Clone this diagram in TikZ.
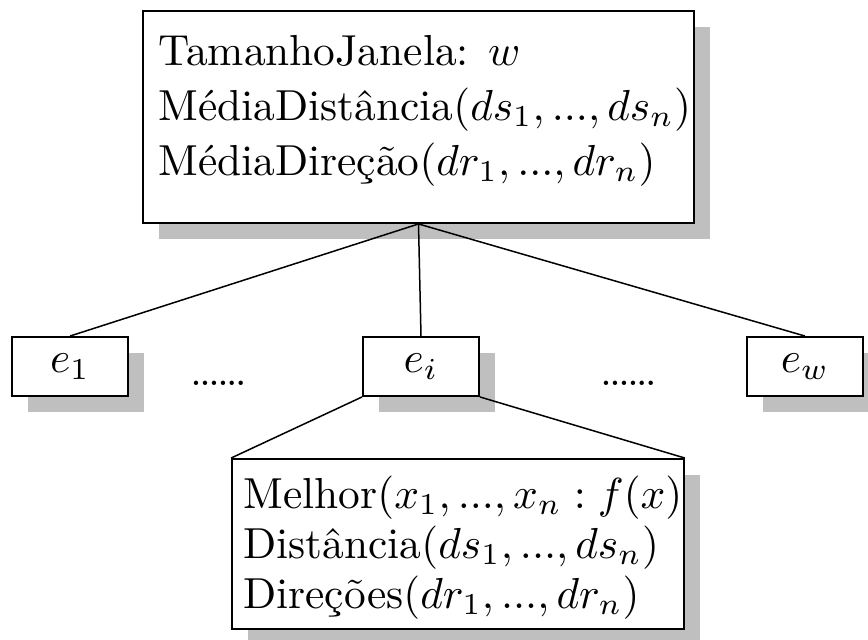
\documentclass[tikz,border=0pt]{standalone}
\usetikzlibrary{shadows}
% text is set at 10pt and enlarged, keeping the 10pt letter shapes
\newcommand\enl[1]{\scalebox{2.17}{#1}}
\newcommand\enldots[1]{\scalebox{1.4}{\bfseries #1}}
\begin{document}
\begin{tikzpicture}[x=0.5pt,y=-0.5pt,
  box/.style={draw, line width=0.95pt, fill=white, inner sep=0pt,
    general shadow={shadow xshift=8pt, shadow yshift=-8pt, fill=black!25}},
  elem/.style={box, minimum width=58pt, minimum height=29.5pt},
  line/.style={inner sep=0pt, anchor=base west},
  gap/.style={inner sep=0pt, anchor=base},
  link/.style={line width=0.75pt}]
\useasboundingbox (0,0) rectangle (868,639);

% window summary
\node[box, minimum width=275.5pt, minimum height=106pt] (head) at (418.5,117) {};
\node[line] (headA) at (158,65)  {\enl{TamanhoJanela: $w$}};
\node[line] (headB) at (158,120) {\enl{MédiaDistância$(ds_1, ..., ds_n)$}};
\node[line] (headC) at (158,175) {\enl{MédiaDireção$(dr_1, ..., dr_n)$}};

% window elements
\node[elem] (e1) at (70,366.5)  {\enl{$e_1$}};
\node[elem] (ei) at (421,366.5) {\enl{$e_i$}};
\node[elem] (ew) at (805,366.5) {\enl{$e_w$}};
\node[gap] (gapL) at (218.5,385) {\enldots{......}};
\node[gap] (gapR) at (628.5,385) {\enldots{......}};

% element detail
\node[box, minimum width=226pt, minimum height=85pt] (detail) at (458,544) {};
\node[line] (detA) at (243,508) {\enl{Melhor$(x_1, ..., x_n : f(x)$}};
\node[line] (detB) at (243,558) {\enl{Distância$(ds_1, ..., ds_n)$}};
\node[line] (detC) at (243,608) {\enl{Direções$(dr_1, ..., dr_n)$}};

% connectors
\draw[link] (head.south) -- (e1.north);
\draw[link] (head.south) -- (ei.north);
\draw[link] (head.south) -- (ew.north);
\draw[link] (ei.south west) -- (detail.north west);
\draw[link] (ei.south east) -- (detail.north east);
\end{tikzpicture}
\end{document}
